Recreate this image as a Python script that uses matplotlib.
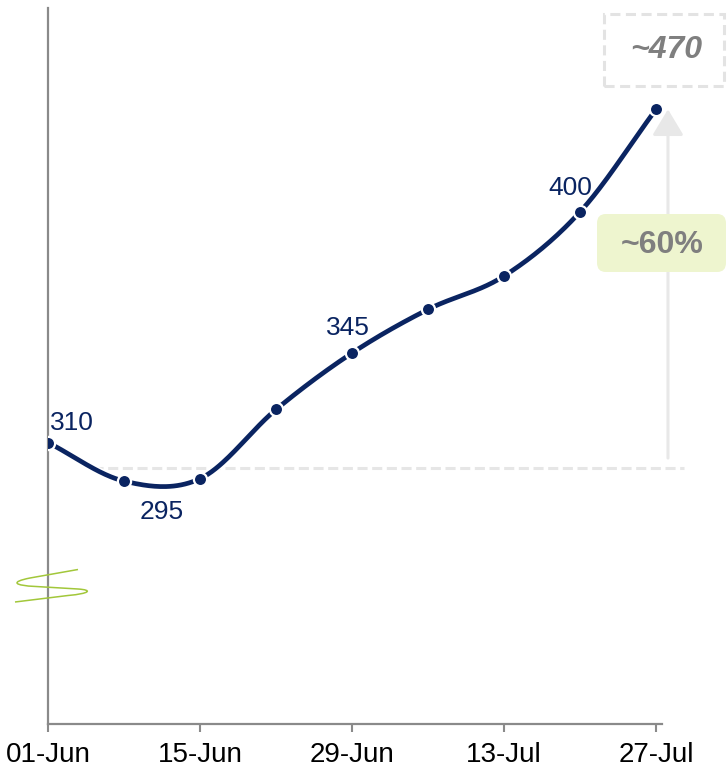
import numpy as np
import pandas as pd
import matplotlib
matplotlib.use("Agg")
import matplotlib.pyplot as plt
import matplotlib.dates as mdates
from matplotlib.patches import FancyBboxPatch, Rectangle, PathPatch
from matplotlib.path import Path
import matplotlib.patheffects as pe

plt.rcParams["font.family"] = ["Liberation Sans", "DejaVu Sans"]

# Weekly values
dates = ["2024-06-01", "2024-06-08", "2024-06-15", "2024-06-22", "2024-06-29",
         "2024-07-06", "2024-07-13", "2024-07-20", "2024-07-27"]
values = [310, 295, 296, 323, 345, 362, 375, 400, 440]

# Points carrying a value label, with label offsets in points
label_dates = ["2024-06-01", "2024-06-08", "2024-06-29", "2024-07-20"]
label_texts = ["310", "295", "345", "400"]
label_offsets = [(17, 14), (27, -22), (-3, 18), (-7, 17)]

tick_dates = ["2024-06-01", "2024-06-15", "2024-06-29", "2024-07-13", "2024-07-27"]
tick_labels = ["01-Jun", "15-Jun", "29-Jun", "13-Jul", "27-Jul"]

baseline_value = 300
target_text = "~470"
growth_text = "~60%"

NAVY = "#0a2461"
GREY_AXIS = "#8a8a8a"
LIGHT = "#e6e6e6"
TXT_GREY = "#7f7f7f"
GREEN = "#a2c73a"

W, H = 728, 769
fig = plt.figure(figsize=(W / 100, H / 100), dpi=100)
ax = fig.add_axes([48.3 / W, (H - 724) / H, (662 - 48.3) / W, (724 - 8) / H])


def fx(px):
    return px / W


def fy(py):
    return 1 - py / H


x = mdates.date2num(pd.to_datetime(dates))
y = np.array(values, dtype=float)


def catmull_rom(xs, ys, n=40):
    # Uniform Catmull-Rom spline through the points
    px = np.concatenate([[2 * xs[0] - xs[1]], xs, [2 * xs[-1] - xs[-2]]])
    py = np.concatenate([[2 * ys[0] - ys[1]], ys, [2 * ys[-1] - ys[-2]]])
    outx, outy = [], []
    for i in range(1, len(px) - 2):
        t = np.linspace(0, 1, n, endpoint=(i == len(px) - 3))
        for arr, out in ((px, outx), (py, outy)):
            p0, p1, p2, p3 = arr[i - 1], arr[i], arr[i + 1], arr[i + 2]
            out.append(0.5 * ((2 * p1) + (-p0 + p2) * t
                              + (2 * p0 - 5 * p1 + 4 * p2 - p3) * t ** 2
                              + (-p0 + 3 * p1 - 3 * p2 + p3) * t ** 3))
    return np.concatenate(outx), np.concatenate(outy)


sx, sy = catmull_rom(x, y)

day0 = x[0]
ax.set_xlim(day0, x[-1] + 0.55)
ax.set_ylim(200.3, 479.5)

# Reference line at the starting level
ax.plot([day0 + 4.1, day0 + 58.6], [baseline_value, baseline_value], color=LIGHT,
        lw=2.2, ls=(0, (3.3, 1.5)), clip_on=False, zorder=1, solid_capstyle="butt")

# Growth arrow
ax.annotate("", xy=(day0 + 57.1, y[-1]), xytext=(day0 + 57.1, baseline_value + 4),
            xycoords="data", textcoords="data", annotation_clip=False,
            arrowprops=dict(arrowstyle="-|>,head_length=1.0,head_width=0.6",
                            mutation_scale=16, color="#e8e8e8", lw=2.2,
                            shrinkA=0, shrinkB=0), zorder=1)

ax.plot(sx, sy, color=NAVY, lw=3.4, solid_capstyle="round", zorder=3,
        path_effects=[pe.Stroke(linewidth=5.6, foreground="white"), pe.Normal()])
ax.plot(x, y, ls="none", marker="o", ms=9.5, mfc=NAVY, mec="white", mew=1.6, zorder=4)

for d, t, (ox, oy) in zip(label_dates, label_texts, label_offsets):
    i = dates.index(d)
    ax.annotate(t, (x[i], y[i]), xytext=(ox, oy), textcoords="offset points",
                ha="center", va="center", fontsize=19, color=NAVY, zorder=5)

ax.set_xticks(mdates.date2num(pd.to_datetime(tick_dates)))
ax.set_xticklabels(tick_labels)
ax.set_yticks([])
ax.tick_params(axis="x", length=6, width=1.5, color=GREY_AXIS, labelsize=20,
               pad=7, labelcolor="black")
for s in ("top", "right"):
    ax.spines[s].set_visible(False)
for s in ("left", "bottom"):
    ax.spines[s].set_color(GREY_AXIS)
    ax.spines[s].set_linewidth(1.6)

# Axis break mark
verts = [(78, 569.5), (30, 578), (10, 582), (14, 585.5), (36, 586.5),
         (78, 589), (93, 590), (90, 593.5), (68, 595.5), (15, 602)]
codes = [Path.MOVETO, Path.LINETO, Path.CURVE4, Path.CURVE4, Path.CURVE4,
         Path.LINETO, Path.CURVE4, Path.CURVE4, Path.CURVE4, Path.LINETO]
brk = Path([(fx(a), fy(b)) for a, b in verts], codes)
fig.patches.append(PathPatch(brk, transform=fig.transFigure, fill=False,
                             edgecolor=GREEN, lw=1.1, zorder=6))

# Target value box
fig.patches.append(Rectangle((fx(604), fy(86)), fx(724) - fx(604), fy(14) - fy(86),
                             transform=fig.transFigure, fill=False, edgecolor="#e3e3e3",
                             lw=2.2, ls=(0, (3.3, 1.8)), zorder=6))
fig.text(fx(666), fy(50), target_text, ha="center", va="center", fontsize=23,
         fontweight="bold", fontstyle="italic", color=TXT_GREY, zorder=7)

# Growth badge
fig.patches.append(FancyBboxPatch((fx(597), fy(272)), fx(726) - fx(597), fy(214) - fy(272),
                                  boxstyle="round,pad=0,rounding_size=0.012",
                                  transform=fig.transFigure, facecolor="#eef5cf",
                                  edgecolor="none", zorder=6))
fig.text(fx(662), fy(245), growth_text, ha="center", va="center", fontsize=23,
         fontweight="bold", color=TXT_GREY, zorder=7)

fig.savefig("out.png", dpi=100)
